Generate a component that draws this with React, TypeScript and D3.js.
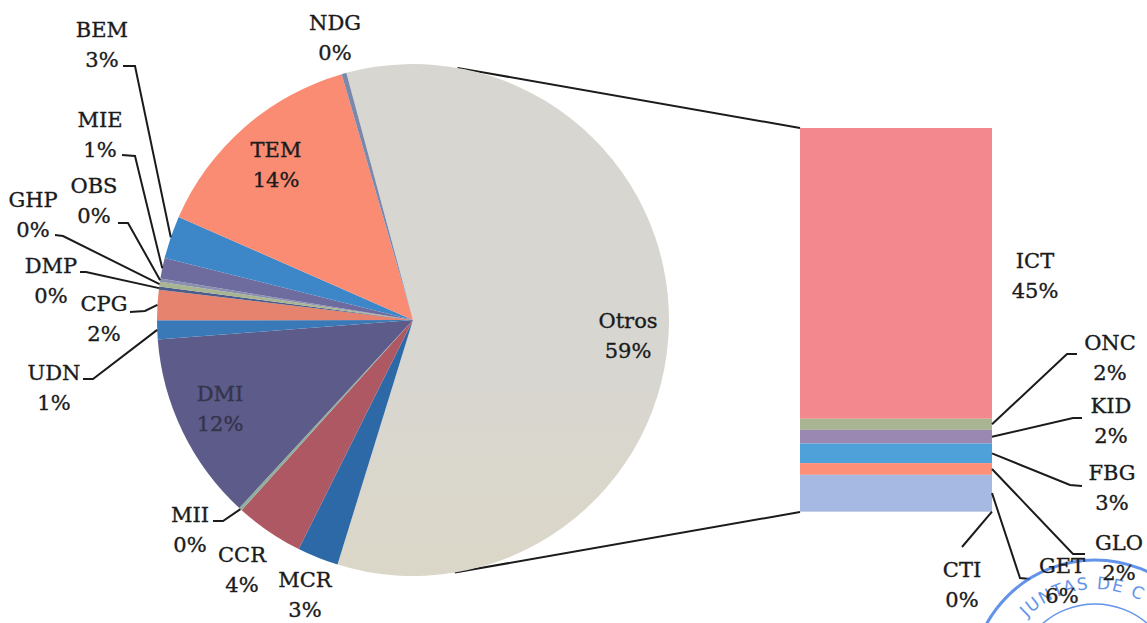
import React from "react";
import * as d3 from "d3";

// ---- data (percent of total) ----
const pieCategories = ["Otros", "MCR", "CCR", "MII", "DMI", "UDN", "CPG", "DMP", "GHP", "OBS", "MIE", "BEM", "TEM", "NDG"];
const pieValues = [0, 2.6, 4.3, 0.2, 11.9, 1.2, 1.9, 0.2, 0.3, 0.2, 1.3, 2.7, 13.9, 0.3]; // Otros filled from bar
const barCategories = ["ICT", "ONC", "KID", "FBG", "GLO", "GET", "CTI"];
const barValues = [44.6, 1.7, 2.1, 3.0, 1.8, 5.6, 0.1];
const stampText = "JUNTAS DE C";

// ---- styles / layout ----
const W = 1147, H = 623;
const CX = 413, CY = 320, R = 256;
const START_DEG = -15.1;
const BAR_X0 = 800, BAR_X1 = 992, BAR_Y0 = 128, BAR_Y1 = 512;
const CONNECT_DEG = [10, 170.6];
const FONT = "'DejaVu Serif', 'Liberation Serif', serif";
const FS = 21, LH = 30;
const STAMP = { cx: 1095, cy: 684, r: 124, rInner: 80, rText: 95, color: "#3d7ae4" };

const pieColors: Record<string, string> = {
  Otros: "url(#otrosGrad)", MCR: "#2d68a7", CCR: "#ad5862", MII: "#8fae9e", DMI: "#5d5b89",
  UDN: "#3979b7", CPG: "#e5836f", DMP: "#4b5c8c", GHP: "#a9b590", OBS: "#8a8fb0",
  MIE: "#6e6c9e", BEM: "#3d87c9", TEM: "#fa8c74", NDG: "#7a88aa",
};
const barColors: Record<string, string> = {
  ICT: "#f3888f", ONC: "#a9b592", KID: "#9b88b2", FBG: "#4ea1d9", GLO: "#fd8f79", GET: "#a6b9e3", CTI: "#b9c4dc",
};

// label: [centerX, firstBaseline]; leader: [startX, startY, elbowX, elbowY] (ends at the mark)
const labelPos: Record<string, [number, number]> = {
  NDG: [335, 30], BEM: [102, 37], MIE: [100, 127], OBS: [94, 193], GHP: [33, 207], DMP: [51, 273],
  CPG: [104, 311], UDN: [54, 380], DMI: [220, 401], MII: [190, 522], CCR: [242, 562], MCR: [305, 587],
  TEM: [276, 157], Otros: [628, 328],
  ICT: [1035, 268], ONC: [1110, 350], KID: [1111, 413], FBG: [1112, 480], GLO: [1119, 550], GET: [1062, 573], CTI: [962, 577],
};
const leaders: Record<string, [number, number, number, number]> = {
  BEM: [123, 66, 135, 66], MIE: [122, 155, 135, 156], OBS: [118, 223, 128, 223], GHP: [55, 235, 63, 236],
  DMP: [80, 272, 86, 272], CPG: [130, 312, 145, 311], UDN: [83, 379, 93, 379], MII: [213, 521, 223, 521],
  ONC: [1077, 354, 1067, 354], KID: [1082, 418, 1073, 418], FBG: [1082, 486, 1070, 485],
  GLO: [1085, 554, 1073, 554], GET: [1030, 579, 1020, 578], CTI: [962, 547, 962, 547],
};

export default function App() {
  const otrosTotal = d3.sum(barValues);
  const values = pieValues.map((v, i) => (pieCategories[i] === "Otros" ? otrosTotal : v));
  const total = d3.sum(values);
  const pct = (v: number) => `${Math.round((v / total) * 100)}%`;

  const rad = (deg: number) => (deg * Math.PI) / 180;
  const pieGen = d3.pie<number>().sort(null).startAngle(rad(START_DEG)).endAngle(rad(START_DEG) + 2 * Math.PI);
  const arcs = pieGen(values);
  const arcGen = d3.arc<d3.PieArcDatum<number>>().innerRadius(0).outerRadius(R);
  const edgeGen = d3.arc<d3.PieArcDatum<number>>().innerRadius(R).outerRadius(R);

  const y = d3.scaleLinear().domain([0, otrosTotal]).range([BAR_Y0, BAR_Y1]);
  const cum = barValues.reduce<number[]>((acc, v, i) => { acc.push((i ? acc[i - 1] : 0) + v); return acc; }, []);
  const barSegs = barCategories.map((c, i) => ({ c, v: barValues[i], y0: y(cum[i] - barValues[i]), y1: y(cum[i]) }));

  const connectors = CONNECT_DEG.map((deg) => [CX + R * Math.sin(rad(deg)), CY - R * Math.cos(rad(deg))]);
  const barCorners = [[BAR_X0, BAR_Y0], [BAR_X0, BAR_Y1]];

  const label = (name: string, v: number, color = "#1b1b1b") => {
    const p = labelPos[name];
    if (!p) return null;
    return (
      <text key={"l" + name} x={p[0]} y={p[1]} textAnchor="middle" fontFamily={FONT} fontSize={FS} fill={color}
        stroke={color} strokeWidth={0.35}>
        <tspan x={p[0]}>{name}</tspan>
        <tspan x={p[0]} dy={LH}>{pct(v)}</tspan>
      </text>
    );
  };

  const leaderPath = (name: string, end: [number, number]) => {
    const l = leaders[name];
    if (!l) return null;
    const path = d3.path();
    path.moveTo(l[0], l[1]);
    path.lineTo(l[2], l[3]);
    path.lineTo(end[0], end[1]);
    return <path key={"ld" + name} d={path.toString()} fill="none" stroke="#1b1b1b" strokeWidth={2} />;
  };

  const stampArc = d3.path();
  stampArc.arc(STAMP.cx, STAMP.cy, STAMP.rText, rad(200), rad(345));

  return (
    <svg width={W} height={H} style={{ position: "fixed", left: 0, top: 0, background: "#fff" }}>
      <defs>
        <linearGradient id="otrosGrad" x1="0" y1={CY - R} x2="0" y2={CY + R} gradientUnits="userSpaceOnUse">
          <stop offset="0" stopColor="#d8d6d0" />
          <stop offset="0.45" stopColor="#dcd7c6" />
          <stop offset="0.75" stopColor="#ded6bc" />
          <stop offset="1" stopColor="#e3d7ab" />
        </linearGradient>
        <path id="stampText" d={stampArc.toString()} />
      </defs>
      <rect width={W} height={H} fill="#fff" />

      {/* connectors pie -> bar */}
      {connectors.map((p, i) => (
        <line key={"c" + i} x1={p[0]} y1={p[1]} x2={barCorners[i][0]} y2={barCorners[i][1]} stroke="#1b1b1b" strokeWidth={2} />
      ))}

      {/* pie */}
      <g transform={`translate(${CX},${CY})`}>
        {arcs.map((a, i) => (
          <path key={pieCategories[i]} d={arcGen(a) || ""} fill={pieColors[pieCategories[i]]} />
        ))}
      </g>

      {/* bar */}
      {barSegs.map((s) => (
        <rect key={s.c} x={BAR_X0} y={s.y0} width={BAR_X1 - BAR_X0} height={Math.max(0.5, s.y1 - s.y0)} fill={barColors[s.c]} />
      ))}

      {/* leaders */}
      {arcs.map((a, i) => {
        const c = edgeGen.centroid(a);
        return leaderPath(pieCategories[i], [CX + c[0], CY + c[1]]);
      })}
      {barSegs.map((s) => leaderPath(s.c, [BAR_X1, (s.y0 + s.y1) / 2]))}

      {/* stamp */}
      <g opacity={0.8}>
        <circle cx={STAMP.cx} cy={STAMP.cy} r={STAMP.r} fill="none" stroke={STAMP.color} strokeWidth={3} />
        <circle cx={STAMP.cx} cy={STAMP.cy} r={STAMP.rInner} fill="none" stroke={STAMP.color} strokeWidth={1.5} />
        <text fontFamily="'DejaVu Sans', sans-serif" fontSize={17} fill={STAMP.color} letterSpacing={1.5}>
          <textPath href="#stampText" startOffset={40}>{stampText}</textPath>
        </text>
      </g>

      {/* labels */}
      {arcs.map((a, i) => label(pieCategories[i], values[i], pieCategories[i] === "DMI" ? "#34344a" : "#1b1b1b"))}
      {barSegs.map((s) => label(s.c, s.v))}
    </svg>
  );
}
